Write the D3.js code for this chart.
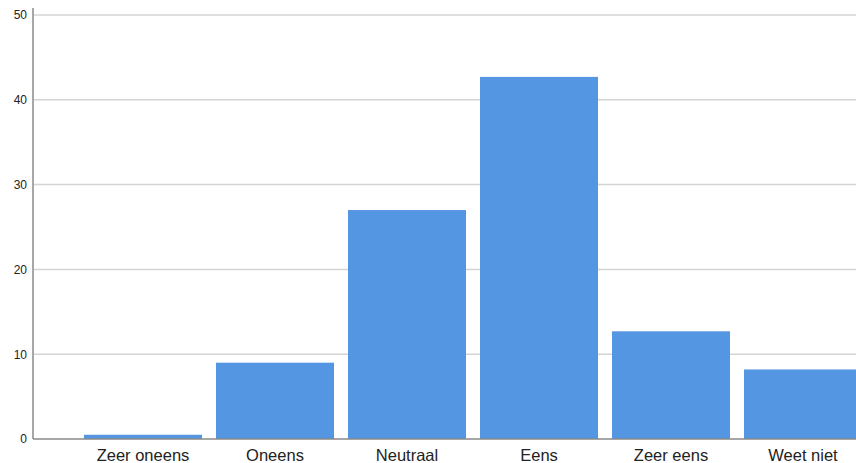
<!DOCTYPE html>
<html><head><meta charset="utf-8">
<script src="https://cdn.jsdelivr.net/npm/d3@7"></script>
<style>html,body{margin:0;padding:0;background:#fff;overflow:hidden}</style>
</head><body><svg id="c" width="856" height="463"></svg>
<script>
const categories = ["Zeer oneens","Oneens","Neutraal","Eens","Zeer eens","Weet niet"];
const values = [0.5, 9.0, 27.0, 42.7, 12.7, 8.2];
const yTicks = [0,10,20,30,40,50];

const svg = d3.select("#c");
const x = d3.scaleBand().domain(categories).range([77,869]).paddingInner(0.106).paddingOuter(0.053);
const y = d3.scaleLinear().domain([0,50]).range([439,15]);

// gridlines
svg.append("g").selectAll("line").data(yTicks.filter(d=>d>0)).join("line")
  .attr("x1",34).attr("x2",856).attr("y1",d=>y(d)).attr("y2",d=>y(d))
  .attr("stroke","#d4d4d4").attr("stroke-width",1.5);

// bars
svg.append("g").selectAll("rect").data(values).join("rect")
  .attr("x",(d,i)=>x(categories[i])).attr("width",x.bandwidth())
  .attr("y",d=>y(d)).attr("height",d=>y(0)-y(d))
  .attr("fill","#5596e3");

// y axis
const ya = svg.append("g").attr("transform","translate(33,0)").call(d3.axisLeft(y).tickValues(yTicks).tickSize(0).tickPadding(6));
ya.select(".domain").attr("stroke","#8a8a8a").attr("stroke-width",1.5).attr("d","M0,8V439");
ya.selectAll("text").attr("font-family","Liberation Sans, Arial, sans-serif").attr("font-size",12).attr("fill","#222");

// x axis
const xa = svg.append("g").attr("transform","translate(0,439)").call(d3.axisBottom(x).tickSize(0).tickPadding(10));
xa.select(".domain").attr("stroke","#8a8a8a").attr("stroke-width",1.5).attr("d","M33,0H856");
xa.selectAll("text").attr("font-family","Liberation Sans, Arial, sans-serif").attr("font-size",16.5).attr("fill","#222");
</script></body></html>
